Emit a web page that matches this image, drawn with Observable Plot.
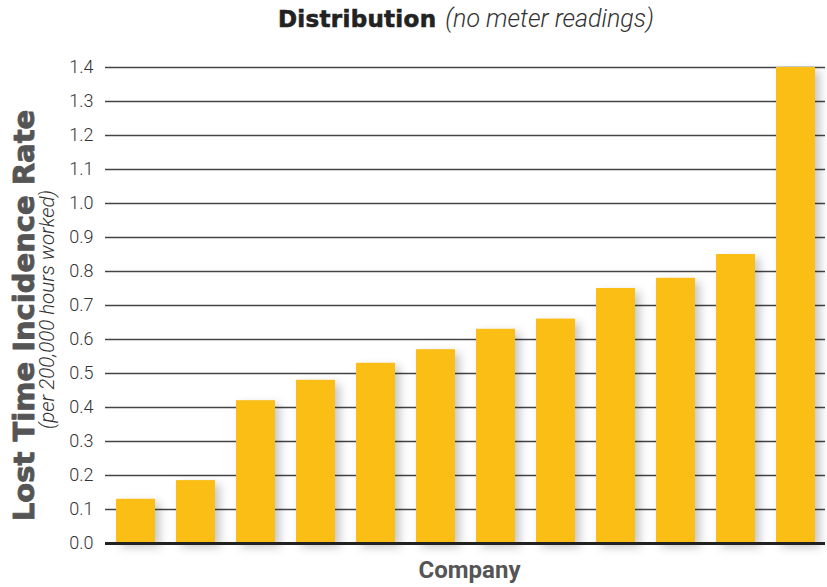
<!DOCTYPE html>
<html>
<head>
<meta charset="utf-8">
<script src="https://cdn.jsdelivr.net/npm/d3@7"></script>
<script src="https://cdn.jsdelivr.net/npm/@observablehq/plot@0.6"></script>
<style>
  html, body { margin: 0; padding: 0; background: #fff; }
  #title {
    height: 44px; box-sizing: border-box; padding-top: 5px; padding-left: 105px;
    text-align: center; font-size: 23px; line-height: 28px; color: #222;
    white-space: nowrap;
  }
  #title .main { font-family: "DejaVu Sans", sans-serif; font-weight: 700; letter-spacing: 0.3px; -webkit-text-stroke: 0.6px #222; }
  #title .sub { font-family: Roboto, "Liberation Sans", sans-serif; font-weight: 300; font-style: italic; font-size: 25px; margin-left: 9px; color: #333; }
</style>
</head>
<body>
<div id="title"><span class="main">Distribution</span><span class="sub">(no meter readings)</span></div>
<div id="chart"></div>
<script>
const companies = ["Company 1","Company 2","Company 3","Company 4","Company 5","Company 6","Company 7","Company 8","Company 9","Company 10","Company 11","Company 12"];
const rates = [0.13, 0.185, 0.42, 0.48, 0.53, 0.57, 0.63, 0.66, 0.75, 0.78, 0.85, 1.40];
const yTicks = [0, 0.1, 0.2, 0.3, 0.4, 0.5, 0.6, 0.7, 0.8, 0.9, 1.0, 1.1, 1.2, 1.3, 1.4];
const yTitle = "Lost Time Incidence Rate";
const ySubtitle = "(per 200,000 hours worked)";
const xTitle = "Company";

const data = companies.map((c, i) => ({company: c, rate: rates[i]}));

const chart = Plot.plot({
  width: 827,
  height: 543,
  marginTop: 23,
  marginBottom: 44,
  marginLeft: 105,
  marginRight: 2,
  x: {domain: companies, paddingInner: 0.35, paddingOuter: 0.175, axis: null},
  y: {domain: [0, 1.4], ticks: yTicks, label: null},
  style: {background: "#fff"},
  marks: [
    Plot.ruleY(yTicks, {stroke: "#444", strokeWidth: 1.3}),
    Plot.axisY(yTicks, {tickFormat: d3.format(".1f"), tickSize: 0, tickPadding: 12, fontSize: 18, fontFamily: "Roboto", fontWeight: 300, fill: "#333", label: null}),
    Plot.barY(data, {x: "company", y: "rate", fill: "#FBBE14"}),
    Plot.ruleY([0], {stroke: "#222", strokeWidth: 3}),
    Plot.text([yTitle], {frameAnchor: "left", textAnchor: "middle", rotate: -90, lineAnchor: "bottom", dx: -72, dy: 10, fontSize: 29, fontFamily: "DejaVu Sans", fontWeight: 700, fill: "#555", stroke: "#555", strokeWidth: 0.9, text: d => d}),
    Plot.text([ySubtitle], {frameAnchor: "left", textAnchor: "middle", rotate: -90, lineAnchor: "bottom", dx: -52, dy: 4, fontSize: 20.5, fontFamily: "Roboto", fontWeight: 300, fontStyle: "italic", fill: "#333", text: d => d}),
    Plot.text([xTitle], {frameAnchor: "bottom", lineAnchor: "bottom", dx: 4, dy: 34, fontSize: 24, fontFamily: "Roboto", fontWeight: 700, fill: "#555", text: d => d})
  ]
});

d3.select(chart).selectAll('g[aria-label="bar"]').style("filter", "drop-shadow(5px 4px 5px rgba(0,0,0,0.22))");
document.getElementById("chart").appendChild(chart);
</script>
</body>
</html>
